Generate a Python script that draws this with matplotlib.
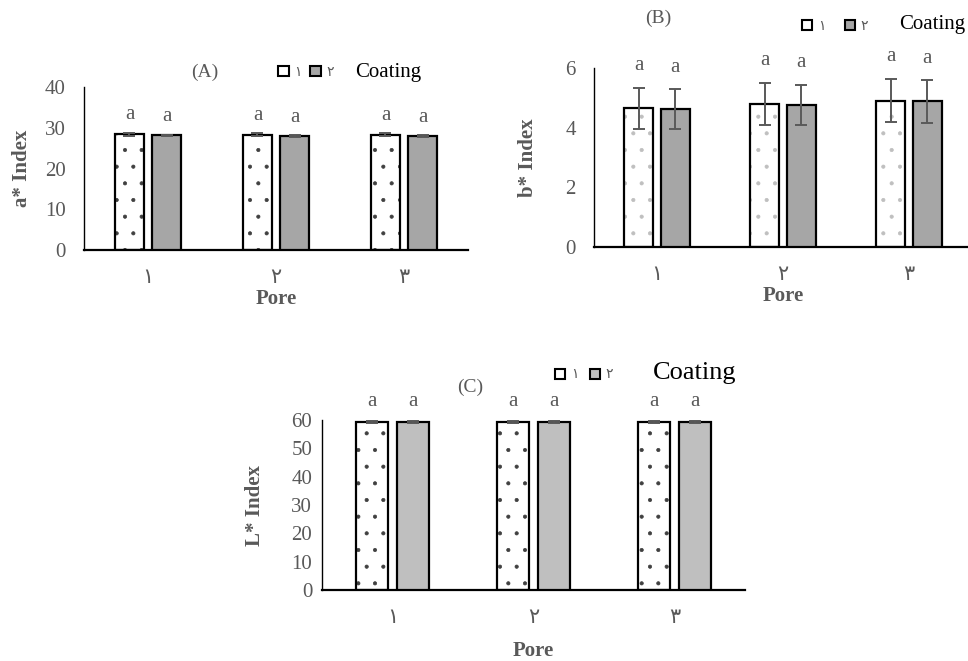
import numpy as np
import matplotlib.pyplot as plt
import matplotlib.patches as mpatches

plt.rcParams['font.family'] = ['Liberation Serif', 'DejaVu Sans']
plt.rcParams['hatch.linewidth'] = 0.5

# pore groups (arabic-indic digits as in the original)
pores = ['١', '٢', '٣']
coat_labels = ['١', '٢']

# a* index
a_c1 = [28.4, 28.3, 28.3]
a_c2 = [28.1, 28.0, 28.0]
a_c1_err = [0.4, 0.3, 0.3]
a_c2_err = [0.2, 0.2, 0.2]

# b* index
b_c1 = [4.65, 4.80, 4.91]
b_c2 = [4.62, 4.77, 4.88]
b_c1_err = [0.68, 0.71, 0.73]
b_c2_err = [0.66, 0.67, 0.71]

# L* index
l_c1 = [59.2, 59.2, 59.2]
l_c2 = [59.2, 59.2, 59.2]
l_c1_err = [0.3, 0.3, 0.3]
l_c2_err = [0.3, 0.3, 0.3]

# duncan letters
letters_c1 = ['a', 'a', 'a']
letters_c2 = ['a', 'a', 'a']

TXT = '#595959'

#---------------------------
def draw_panel(ax, v1, e1, v2, e2, ymax, ystep, ylabel, gray, dotcol, ypad, lab_x, pore_y, let_off):
    x = np.arange(len(pores))
    w = 0.227
    off = 0.145

    # coating 1: white with dots, coating 2: solid gray
    ax.bar(x - off, v1, w, color='white', edgecolor=dotcol, linewidth=0, hatch='.', zorder=2)
    ax.bar(x - off, v1, w, fill=False, edgecolor='black', linewidth=1.6, zorder=3)
    ax.bar(x + off, v2, w, color=gray, edgecolor='black', linewidth=1.6, zorder=3)

    ax.errorbar(x - off, v1, yerr=e1, fmt='none', ecolor=TXT, elinewidth=1.4, capsize=4, capthick=1.4, zorder=4)
    ax.errorbar(x + off, v2, yerr=e2, fmt='none', ecolor=TXT, elinewidth=1.4, capsize=4, capthick=1.4, zorder=4)

    for i in range(len(pores)):
        ax.annotate(letters_c1[i], (x[i] - off, v1[i] + e1[i]), xytext=(0, let_off), textcoords='offset points',
                    ha='center', va='center', fontsize=15, color=TXT, annotation_clip=False)
        ax.annotate(letters_c2[i], (x[i] + off, v2[i] + e2[i]), xytext=(0, let_off), textcoords='offset points',
                    ha='center', va='center', fontsize=15, color=TXT, annotation_clip=False)

    ax.set_xlim(-0.5, len(pores) - 0.5)
    ax.set_ylim(0, ymax)
    ax.set_yticks(np.arange(0, ymax + 0.01, ystep))
    ax.set_xticks(x)
    ax.set_xticklabels(pores)
    ax.tick_params(axis='both', length=0, labelsize=15, labelcolor=TXT)
    ax.tick_params(axis='x', pad=14)
    ax.tick_params(axis='y', pad=ypad)

    for s in ['top', 'right']:
        ax.spines[s].set_visible(False)
    ax.spines['bottom'].set_linewidth(1.6)
    ax.spines['left'].set_linewidth(1.0)

    ax.set_ylabel(ylabel, fontsize=15, fontweight='bold', color=TXT)
    ax.set_xlabel('Pore', fontsize=15, fontweight='bold', color=TXT)
    ax.yaxis.set_label_coords(lab_x, 0.5)
    ax.xaxis.set_label_coords(0.5, pore_y)
#---------------------------

def add_legend(ax, gray, center, colsp, coat_pos, coat_size):
    h = [mpatches.Patch(facecolor='white', edgecolor='black', linewidth=1.5),
         mpatches.Patch(facecolor=gray, edgecolor='black', linewidth=1.5)]
    ax.legend(h, coat_labels, ncol=2, frameon=False, loc='center', bbox_to_anchor=center,
              bbox_transform=fig.transFigure, handlelength=0.75, handleheight=0.75,
              handletextpad=0.4, columnspacing=colsp, fontsize=10, labelcolor=TXT)
    fig.text(coat_pos[0], coat_pos[1], 'Coating', ha='center', va='center', fontsize=coat_size, color='black')


fig = plt.figure(figsize=(9.68, 6.61), dpi=100)

axA = fig.add_axes([84 / 968, 1 - 250 / 661, 384 / 968, 163 / 661])
axB = fig.add_axes([594 / 968, 1 - 247 / 661, 378 / 968, 179 / 661])
axC = fig.add_axes([322 / 968, 1 - 590 / 661, 423 / 968, 170 / 661])

draw_panel(axA, a_c1, a_c1_err, a_c2, a_c2_err, 40, 10, 'a* Index', '#a6a6a6', '#404040', 13, -0.135, -0.239, 13)
draw_panel(axB, b_c1, b_c1_err, b_c2, b_c2_err, 6, 2, 'b* Index', '#a6a6a6', '#bfbfbf', 13, -0.149, -0.218, 16)
draw_panel(axC, l_c1, l_c1_err, l_c2, l_c2_err, 60, 10, 'L* Index', '#bfbfbf', '#404040', 7, -0.135, -0.30, 14)

# panel tags
fig.text(205 / 968, 1 - 72 / 661, '(A)', ha='center', va='center', fontsize=14, color=TXT)
fig.text(658 / 968, 1 - 18 / 661, '(B)', ha='center', va='center', fontsize=14, color=TXT)
fig.text(470 / 968, 1 - 387 / 661, '(C)', ha='center', va='center', fontsize=14, color=TXT)

add_legend(axA, '#a6a6a6', (306 / 968, 1 - 72 / 661), 0.6, (388 / 968, 1 - 72 / 661), 15)
add_legend(axB, '#a6a6a6', (835 / 968, 1 - 26 / 661), 1.4, (932 / 968, 1 - 24 / 661), 15)
add_legend(axC, '#bfbfbf', (584 / 968, 1 - 375 / 661), 0.8, (695 / 968, 1 - 373 / 661), 19)

plt.savefig('out.png', dpi=100)
